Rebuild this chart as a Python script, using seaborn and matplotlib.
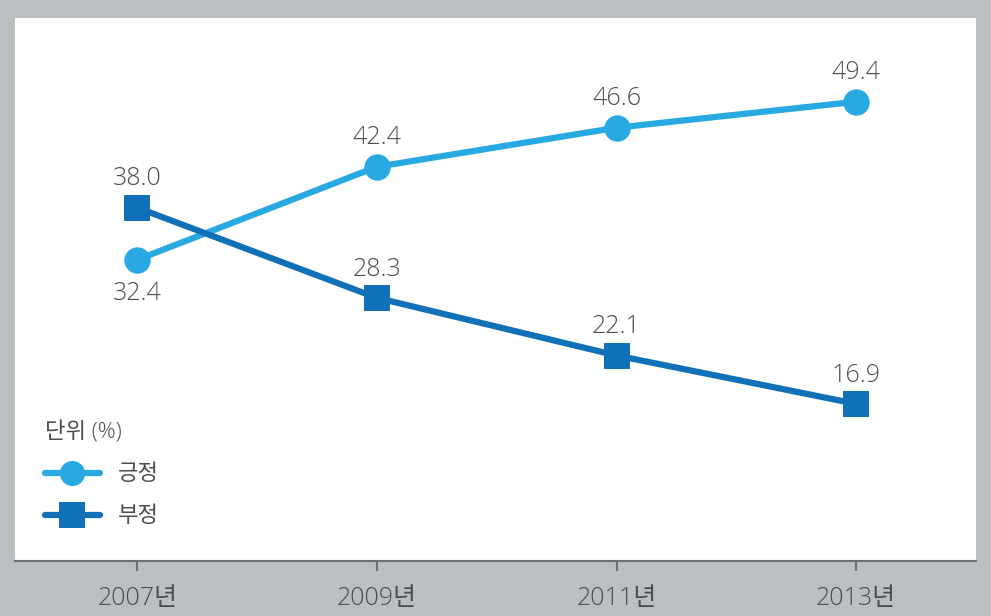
import pandas as pd
import matplotlib
matplotlib.use('Agg')
import matplotlib.pyplot as plt
import seaborn as sns

# 데이터
years = ['2007년', '2009년', '2011년', '2013년']
positive = [32.4, 42.4, 46.6, 49.4]
negative = [38.0, 28.3, 22.1, 16.9]
series_names = ['긍정', '부정']

df = pd.DataFrame({
    'year': years * 2,
    'value': positive + negative,
    'kind': [series_names[0]] * 4 + [series_names[1]] * 4,
})

sns.set_style('white')
plt.rcParams['font.family'] = ['Open Sans', 'Noto Sans CJK KR', 'DejaVu Sans']
plt.rcParams['font.weight'] = 300

light_blue = '#29a9e1'
dark_blue = '#1071b8'
text_gray = '#4d4d4d'
bg_gray = '#bcbfc2'

fig = plt.figure(figsize=(9.91, 6.16), dpi=100, facecolor=bg_gray)
ax = fig.add_axes([15 / 991, 55 / 616, 961 / 991, 543 / 616])
ax.set_facecolor('white')

sns.lineplot(data=df, x='year', y='value', hue='kind', style='kind',
             palette=[light_blue, dark_blue], markers=['o', 's'], dashes=False,
             linewidth=4.5, markersize=19, markeredgewidth=0, ax=ax, sort=False)

ax.set_xlim(-0.51, 3.5)
ax.set_ylim(0, 58.4)
ax.set_xlabel('')
ax.set_ylabel('')
ax.set_yticks([])

for s in ['top', 'right', 'left']:
    ax.spines[s].set_visible(False)
ax.spines['bottom'].set_color('#6d6f71')
ax.spines['bottom'].set_linewidth(1.5)
ax.tick_params(axis='x', bottom=True, length=7, width=1.5, color='#6d6f71',
               labelsize=18, labelcolor=text_gray, pad=11)

# 값 라벨
for i, v in enumerate(positive):
    dy = -3.6 if i == 0 else 3.1
    ax.text(i, v + dy, f'{v:.1f}', ha='center', va='center', fontsize=18, color=text_gray)
for i, v in enumerate(negative):
    ax.text(i, v + 3.1, f'{v:.1f}', ha='center', va='center', fontsize=18, color=text_gray)

handles, labels = ax.get_legend_handles_labels()
leg = ax.legend(handles, labels, title='단위 (%)', loc='lower left',
                bbox_to_anchor=(0.01, 0.025), frameon=False, fontsize=16,
                title_fontsize=16, handlelength=2.5, labelspacing=0.95,
                markerscale=0.95, labelcolor=text_gray)
leg.get_title().set_color(text_gray)
leg._legend_box.align = 'left'

fig.savefig('out.png', dpi=100, facecolor=bg_gray)
